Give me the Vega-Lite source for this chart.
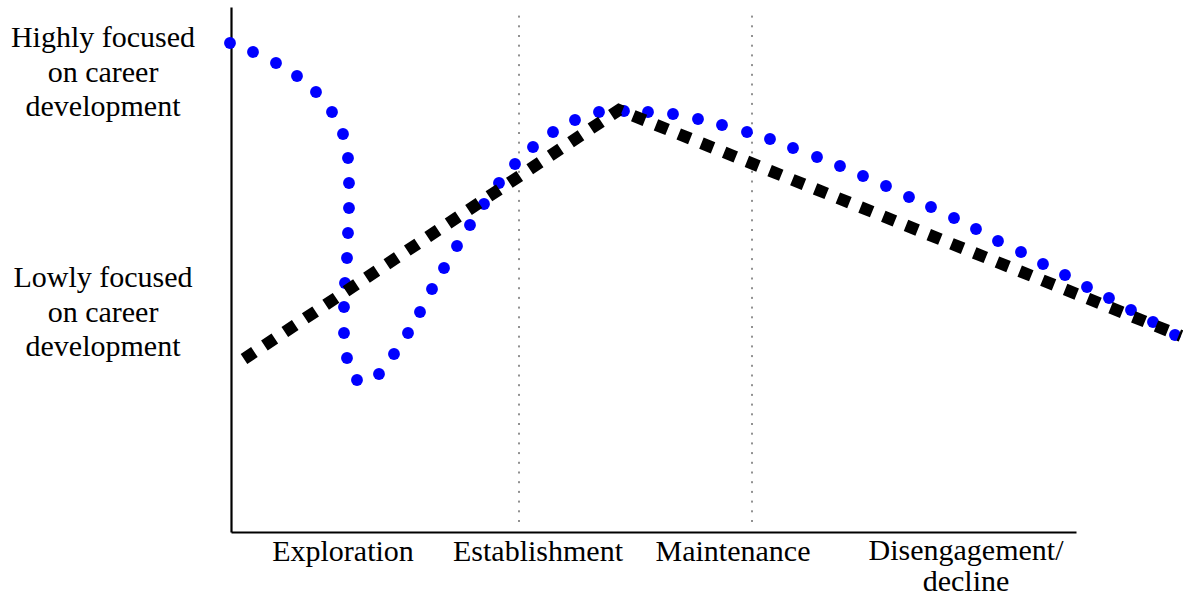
{
  "$schema": "https://vega.github.io/schema/vega-lite/v6.json",
  "width": 845,
  "height": 525,
  "padding": {"left": 231, "top": 7, "right": 107, "bottom": 64},
  "autosize": {"type": "none"},
  "background": "white",
  "config": {"view": {"stroke": null}},
  "datasets": {
    "actual": [
      {"x": -1, "y": 489}, {"x": 22, "y": 480}, {"x": 45, "y": 469}, {"x": 66, "y": 456},
      {"x": 85, "y": 440}, {"x": 101, "y": 420}, {"x": 112, "y": 398}, {"x": 117, "y": 374},
      {"x": 118, "y": 349}, {"x": 118, "y": 324}, {"x": 117, "y": 299}, {"x": 116, "y": 274},
      {"x": 114, "y": 249}, {"x": 113, "y": 225}, {"x": 113, "y": 199}, {"x": 116, "y": 174},
      {"x": 126, "y": 152}, {"x": 148, "y": 158}, {"x": 163, "y": 178}, {"x": 177, "y": 199},
      {"x": 189, "y": 220}, {"x": 201, "y": 243}, {"x": 213, "y": 264}, {"x": 226, "y": 286},
      {"x": 239, "y": 307}, {"x": 253, "y": 328}, {"x": 268, "y": 349}, {"x": 284, "y": 368},
      {"x": 302, "y": 385}, {"x": 322, "y": 400}, {"x": 344, "y": 412}, {"x": 368, "y": 420},
      {"x": 393, "y": 421}, {"x": 417, "y": 420}, {"x": 442, "y": 418}, {"x": 467, "y": 413},
      {"x": 491, "y": 407}, {"x": 516, "y": 400}, {"x": 539, "y": 393}, {"x": 562, "y": 384},
      {"x": 586, "y": 375}, {"x": 609, "y": 366}, {"x": 632, "y": 356}, {"x": 655, "y": 346},
      {"x": 678, "y": 335}, {"x": 700, "y": 325}, {"x": 723, "y": 314}, {"x": 745, "y": 303},
      {"x": 767, "y": 291}, {"x": 790, "y": 280}, {"x": 812, "y": 268}, {"x": 834, "y": 257},
      {"x": 856, "y": 245}, {"x": 878, "y": 234}, {"x": 900, "y": 222}, {"x": 922, "y": 210},
      {"x": 944, "y": 197}
    ],
    "typical": [
      {"x": 13, "y": 173}, {"x": 388, "y": 422}, {"x": 950, "y": 196}
    ],
    "boundaries": [
      {"x": 288, "y": 10, "y2": 524}, {"x": 521, "y": 10, "y2": 524}
    ],
    "leftLabels": [
      {"x": -128, "y": 485, "label": "Highly focused|on career|development"},
      {"x": -128, "y": 245, "label": "Lowly focused|on career|development"}
    ],
    "stageLabels": [
      {"x": 112, "y": -29, "label": "Exploration"},
      {"x": 307, "y": -29, "label": "Establishment"},
      {"x": 502, "y": -29, "label": "Maintenance"},
      {"x": 735, "y": -28, "label": "Disengagement/|decline"}
    ]
  },
  "layer": [
    {
      "data": {"name": "boundaries"},
      "mark": {"type": "rule", "color": "#222222", "strokeWidth": 1, "strokeDash": [2, 7.7]},
      "encoding": {
        "x": {"field": "x", "type": "quantitative", "scale": {"domain": [0, 845], "nice": false, "zero": false},
              "axis": {"domain": true, "domainColor": "black", "domainWidth": 2.2, "ticks": false, "labels": false, "grid": false, "title": null}},
        "y": {"field": "y", "type": "quantitative", "scale": {"domain": [0, 525], "nice": false, "zero": false},
              "axis": {"domain": true, "domainColor": "black", "domainWidth": 2.2, "ticks": false, "labels": false, "grid": false, "title": null}},
        "y2": {"field": "y2"}
      }
    },
    {
      "data": {"name": "actual"},
      "mark": {"type": "point", "filled": true, "color": "#0000FF", "opacity": 1, "size": 140, "shape": "circle"},
      "encoding": {
        "x": {"field": "x", "type": "quantitative"},
        "y": {"field": "y", "type": "quantitative"}
      }
    },
    {
      "data": {"name": "typical"},
      "mark": {"type": "line", "color": "black", "strokeWidth": 12, "strokeDash": [12.5, 12], "strokeCap": "butt", "strokeJoin": "miter"},
      "encoding": {
        "x": {"field": "x", "type": "quantitative"},
        "y": {"field": "y", "type": "quantitative"}
      }
    },
    {
      "data": {"name": "leftLabels"},
      "mark": {"type": "text", "font": "Liberation Serif", "fontSize": 30, "color": "black", "align": "center", "baseline": "alphabetic", "lineBreak": "|", "lineHeight": 34.5},
      "encoding": {
        "x": {"field": "x", "type": "quantitative"},
        "y": {"field": "y", "type": "quantitative"},
        "text": {"field": "label", "type": "nominal"}
      }
    },
    {
      "data": {"name": "stageLabels"},
      "mark": {"type": "text", "font": "Liberation Serif", "fontSize": 30, "color": "black", "align": "center", "baseline": "alphabetic", "lineBreak": "|", "lineHeight": 31},
      "encoding": {
        "x": {"field": "x", "type": "quantitative"},
        "y": {"field": "y", "type": "quantitative"},
        "text": {"field": "label", "type": "nominal"}
      }
    }
  ]
}
